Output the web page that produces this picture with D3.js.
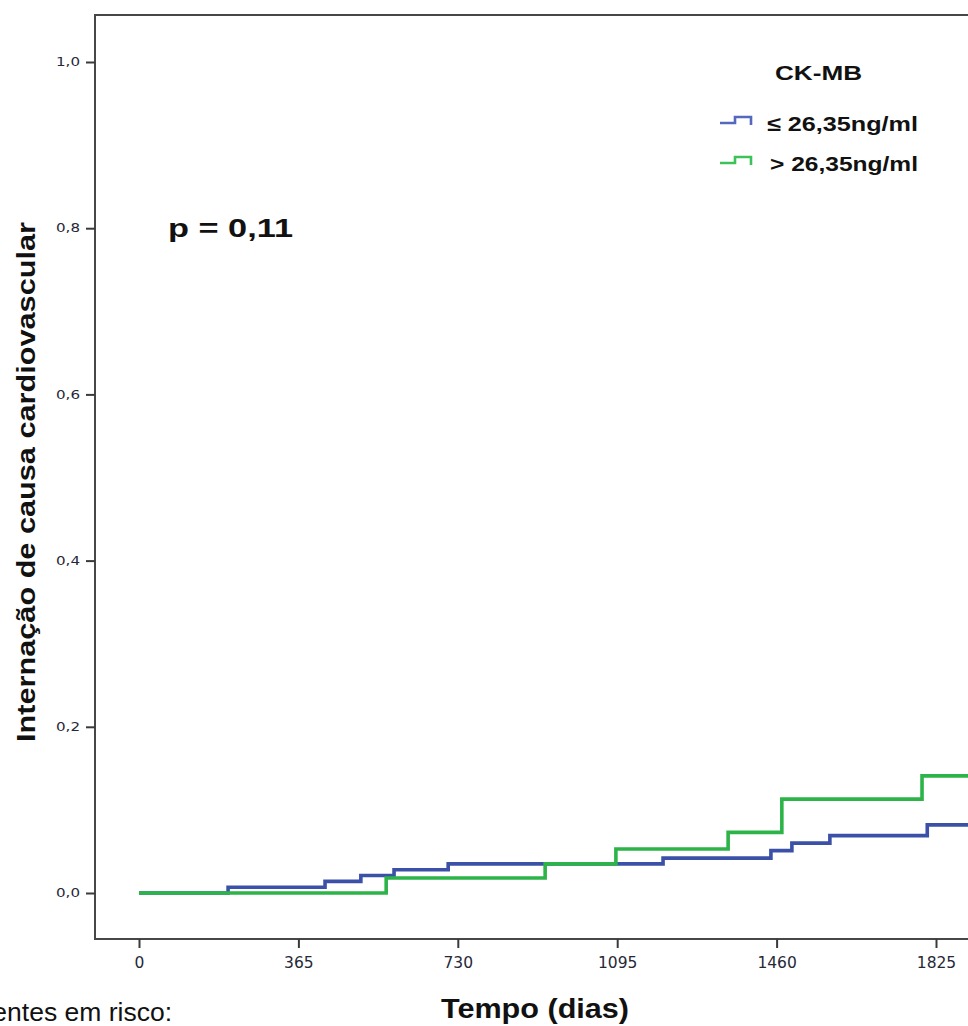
<!DOCTYPE html>
<html>
<head>
<meta charset="utf-8">
<script src="https://cdn.jsdelivr.net/npm/d3@7"></script>
<style>
  html, body { margin: 0; padding: 0; background: #fff; overflow: hidden; }
  svg { display: block; }
</style>
</head>
<body>
<svg id="chart" width="968" height="1026"></svg>
<script>
// Cumulative incidence of cardiovascular hospitalisation (Kaplan-Meier, 1 - S)
const groupLabels = ["≤ 26,35ng/ml", "> 26,35ng/ml"];

// Group 1: CK-MB <= 26,35 ng/ml
const lowTimes  = [0, 204, 426, 508, 584, 708, 1200, 1447, 1495, 1582, 1805, 2200];
const lowValues = [0, 0.007, 0.014, 0.021, 0.028, 0.035, 0.042, 0.051, 0.060, 0.069, 0.082, 0.082];

// Group 2: CK-MB > 26,35 ng/ml
const highTimes  = [0, 566, 930, 1092, 1349, 1472, 1793, 2200];
const highValues = [0, 0.018, 0.035, 0.053, 0.073, 0.113, 0.141, 0.141];

const xTicks = [0, 365, 730, 1095, 1460, 1825];
const yTicks = [0, 0.2, 0.4, 0.6, 0.8, 1.0];

const colors = ["#3b51a7", "#2db449"];
const legendColors = ["#5468bd", "#3cc25a"];

const svg = d3.select("#chart");

const x = d3.scaleLinear().domain([0, 1825]).range([139, 936]);
const y = d3.scaleLinear().domain([0, 1]).range([893, 62]);

// plot frame (x range runs past the right edge)
const frameLeft = 95, frameTop = 15, frameBottom = 939;
svg.append("path")
  .attr("d", `M1200,${frameTop}H${frameLeft}V${frameBottom}H1200`)
  .attr("fill", "none")
  .attr("stroke", "#474747")
  .attr("stroke-width", 2);

// y axis
const yAxis = svg.append("g")
  .attr("transform", `translate(${frameLeft},0)`)
  .call(d3.axisLeft(y).tickValues(yTicks).tickSize(9).tickPadding(0)
    .tickFormat(d => d3.format(".1f")(d).replace(".", ",")));
yAxis.select(".domain").remove();
yAxis.selectAll(".tick line").attr("stroke", "#3a3a3a").attr("stroke-width", 2);
yAxis.selectAll(".tick text")
  .attr("x", -15)
  .attr("dy", "0.33em")
  .attr("fill", "#262838")
  .style("font-family", "DejaVu Sans")
  .style("font-size", "11.5px")
  .attr("textLength", 24)
  .attr("lengthAdjust", "spacingAndGlyphs");

// x axis
const xAxis = svg.append("g")
  .attr("transform", `translate(0,${frameBottom})`)
  .call(d3.axisBottom(x).tickValues(xTicks).tickSize(9).tickPadding(0).tickFormat(d3.format("d")));
xAxis.select(".domain").remove();
xAxis.selectAll(".tick line").attr("stroke", "#3a3a3a").attr("stroke-width", 2);
xAxis.selectAll(".tick text")
  .attr("y", 29)
  .attr("dy", 0)
  .attr("fill", "#262838")
  .style("font-family", "DejaVu Sans")
  .style("font-size", "15.5px");

// step curves
const line = d3.line()
  .x(d => x(d[0]))
  .y(d => y(d[1]))
  .curve(d3.curveStepAfter);

const series = [
  d3.zip(lowTimes, lowValues),
  d3.zip(highTimes, highValues)
];

svg.append("g").selectAll("path")
  .data(series)
  .join("path")
  .attr("d", line)
  .attr("fill", "none")
  .attr("stroke", (d, i) => colors[i])
  .attr("stroke-width", 3.6)
  .attr("stroke-linejoin", "miter");

// axis titles
svg.append("text")
  .attr("transform", "translate(35,482) rotate(-90)")
  .attr("text-anchor", "middle")
  .style("font-family", "Liberation Sans, Arial, sans-serif")
  .style("font-weight", "bold")
  .style("font-size", "26px")
  .attr("textLength", 520)
  .attr("lengthAdjust", "spacingAndGlyphs")
  .attr("fill", "#111")
  .text("Internação de causa cardiovascular");

svg.append("text")
  .attr("x", 441)
  .attr("y", 1018)
  .style("font-family", "Liberation Sans, Arial, sans-serif")
  .style("font-weight", "bold")
  .style("font-size", "27px")
  .attr("textLength", 188)
  .attr("lengthAdjust", "spacingAndGlyphs")
  .attr("fill", "#111")
  .text("Tempo (dias)");

svg.append("text")
  .attr("x", 172)
  .attr("y", 1021)
  .attr("text-anchor", "end")
  .style("font-family", "Liberation Sans, Arial, sans-serif")
  .style("font-size", "26.5px")
  .attr("fill", "#111")
  .text("Pacientes em risco:");

// p-value annotation
svg.append("text")
  .attr("x", 168)
  .attr("y", 237)
  .style("font-family", "Liberation Sans, Arial, sans-serif")
  .style("font-weight", "bold")
  .style("font-size", "25px")
  .attr("textLength", 125)
  .attr("lengthAdjust", "spacingAndGlyphs")
  .attr("fill", "#111")
  .text("p = 0,11");

// legend
const legend = svg.append("g");
legend.append("text")
  .attr("x", 775)
  .attr("y", 79.5)
  .style("font-family", "Liberation Sans, Arial, sans-serif")
  .style("font-weight", "bold")
  .style("font-size", "20px")
  .attr("textLength", 87)
  .attr("lengthAdjust", "spacingAndGlyphs")
  .attr("fill", "#111")
  .text("CK-MB");

const rowY = [123, 163];
const rowStart = [767, 770];
groupLabels.forEach((label, i) => {
  const yy = rowY[i];
  legend.append("path")
    .attr("d", `M720,${yy}H735V${yy - 6}H751V${yy + 2}`)
    .attr("fill", "none")
    .attr("stroke", legendColors[i])
    .attr("stroke-width", 2.6);
  legend.append("text")
    .attr("x", rowStart[i])
    .attr("y", yy + 7.5)
    .style("font-family", "Liberation Sans, Arial, sans-serif")
    .style("font-weight", "bold")
    .style("font-size", "20.5px")
    .attr("textLength", 918 - rowStart[i])
    .attr("lengthAdjust", "spacingAndGlyphs")
    .attr("fill", "#111")
    .text(label);
});
</script>
</body>
</html>
